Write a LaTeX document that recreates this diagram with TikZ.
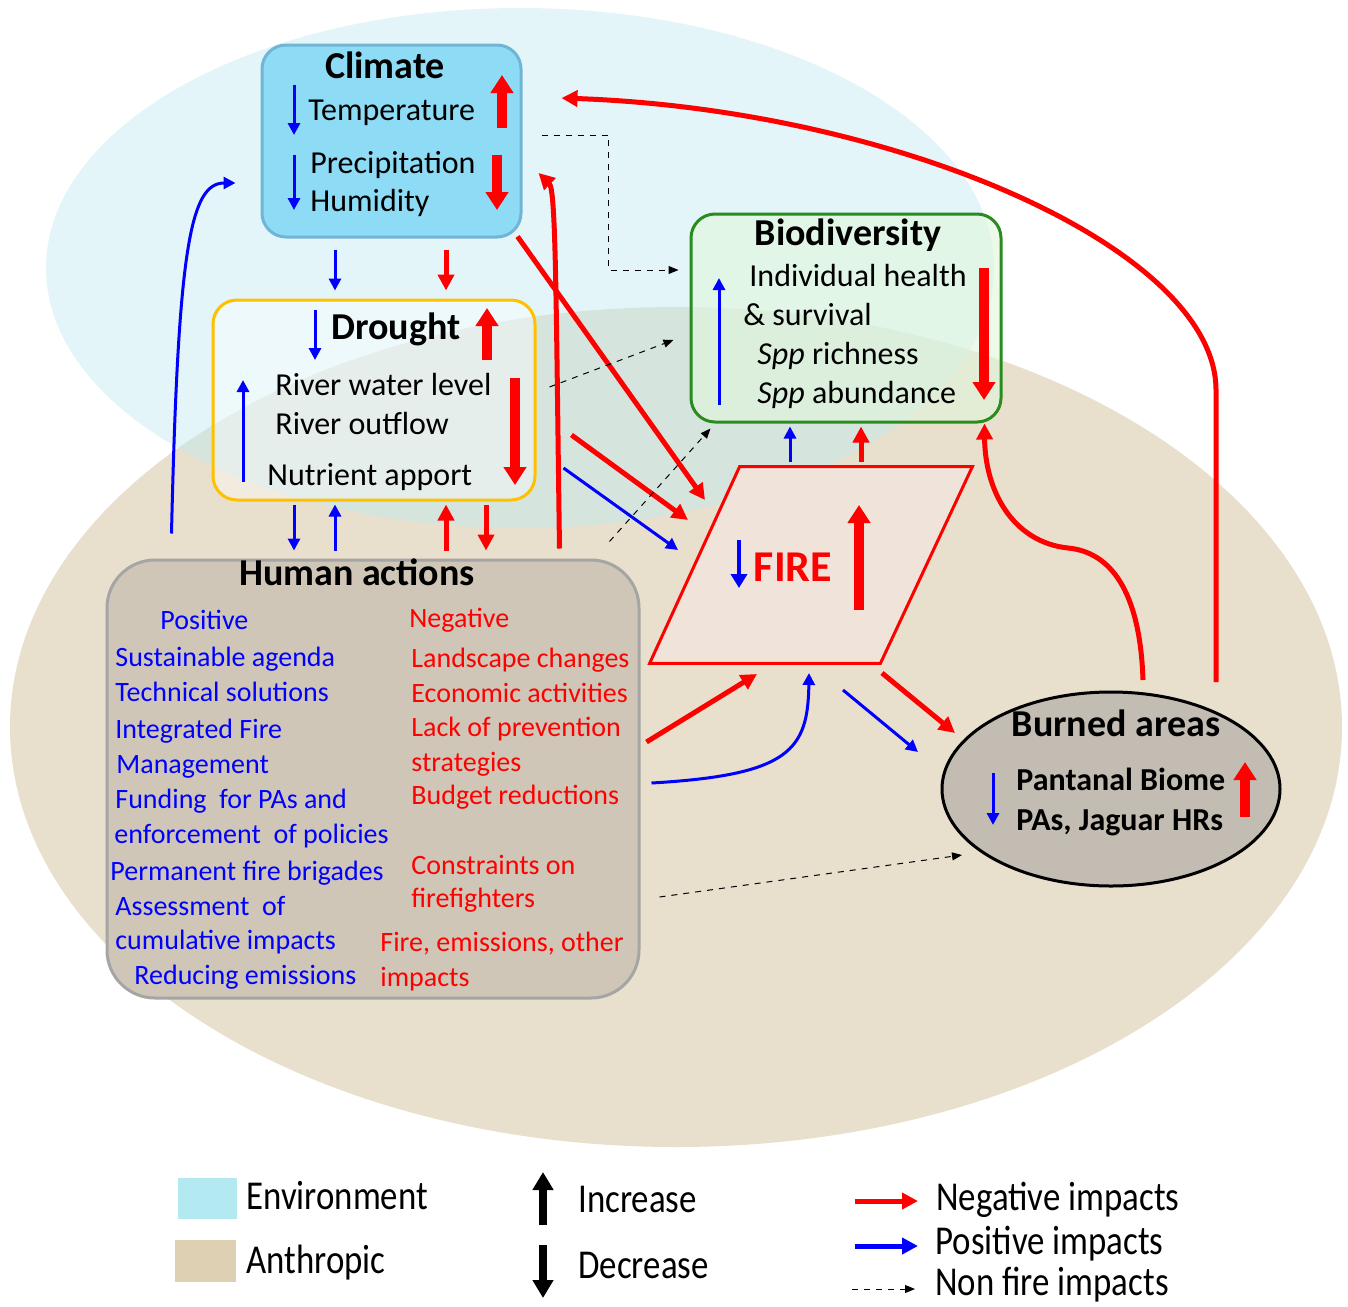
\documentclass[tikz,border=0pt]{standalone}
\usepackage{fontspec}
\setmainfont{Carlito}
\newfontfamily\legfont[FakeStretch=0.85]{Carlito}
\usepackage{tikz}
\usetikzlibrary{arrows.meta,positioning,calc,shapes.geometric}
\usepackage{xcolor}
\definecolor{envbg}{RGB}{196,235,242}
\definecolor{anthbg}{RGB}{232,223,204}
\definecolor{climfill}{RGB}{141,219,244}
\definecolor{climline}{RGB}{112,182,212}
\definecolor{drline}{RGB}{255,192,0}
\definecolor{bioline}{RGB}{40,140,30}
\definecolor{biofill}{RGB}{225,247,220}
\definecolor{humfill}{RGB}{207,198,184}
\definecolor{humline}{RGB}{165,165,165}
\definecolor{burnfill}{RGB}{194,188,178}
\definecolor{firefill}{RGB}{240,228,218}
\definecolor{posblue}{RGB}{0,0,255}
\definecolor{negred}{RGB}{255,0,0}
\definecolor{legenv}{RGB}{179,233,240}
\definecolor{leganth}{RGB}{221,208,179}
\tikzset{
  lbl/.style={font=\fontsize{16}{19}\selectfont, inner sep=0pt, text height=1.05em, text depth=0em, anchor=west},
  ttl/.style={font=\fontsize{19}{22}\selectfont\bfseries, inner sep=0pt},
  hpos/.style={font=\fontsize{14}{17}\selectfont, text=posblue, anchor=west, inner sep=0pt, text height=1.05em, text depth=0em},
  hneg/.style={hpos, text=negred},
  leg/.style={font=\legfont\fontsize{20.5}{24}\selectfont, anchor=west, inner sep=0pt, text height=1.05em, text depth=0em},
  box/.style={draw, rounded corners=12pt, line width=1.5pt, inner sep=0pt},
  climbox/.style={box, fill=climfill, draw=climline, minimum width=129.5pt, minimum height=96pt},
  drbox/.style={box, fill=white, fill opacity=0.4, draw opacity=1, draw=drline, minimum width=161pt, minimum height=100pt},
  biobox/.style={box, fill=biofill, fill opacity=0.6, draw opacity=1, draw=bioline, minimum width=155pt, minimum height=104pt},
  humbox/.style={box, rounded corners=24pt, fill=humfill, draw=humline, minimum width=266pt, minimum height=219pt},
  firearea/.style={inner sep=0pt, minimum width=161pt, minimum height=98pt},
  firebox/.style={draw=negred, line width=1.5pt, fill=firefill, line join=miter},
  burnbox/.style={ellipse, draw, line width=1.5pt, fill=burnfill, inner sep=0pt, minimum width=169pt, minimum height=97pt},
  thin/.style={-{Triangle[width=6pt,length=6pt]}, line width=1.5pt, posblue},
  fat/.style={-{Triangle[width=11pt,length=9pt]}, line width=5pt, negred},
  negarr/.style={-{Triangle[width=8pt,length=8pt]}, line width=2.5pt, negred},
  posarr/.style={-{Triangle[width=6pt,length=6pt]}, line width=1.5pt, posblue},
  nfarr/.style={-{Triangle[width=4pt,length=5pt]}, dashed, line width=0.5pt},
}

\begin{document}
\begin{tikzpicture}[x=0.5pt, y=-0.5pt]
  \useasboundingbox (0,0) rectangle (1348,1306);
  % background areas
  \fill[anthbg] (676,727) ellipse [x radius=666, y radius=420];
  \fill[envbg, fill opacity=0.48] (520,268) ellipse [x radius=474, y radius=260];

  % boxes
  \node[humbox] (hum) at (373,779) {};
  \node[climbox] (clim) at (391.5,141) {};
  \node[drbox] (dr) at (374,400) {};
  \node[biobox] (bio) at (846,318) {};
  \node[firearea] (fire) at (811,565) {};
  \draw[firebox] (fire.south west) -- ($(fire.north west)+(90,0)$) -- (fire.north east)
    -- ($(fire.south east)+(-92,0)$) -- cycle;
  \node[burnbox] (burn) at (1111,789) {};

  % climate
  \node[ttl] (climt) at (385,65) {Climate};
  \node[lbl] (temp) at (308,110) {Temperature};
  \node[lbl] (prec) at (310,163) {Precipitation};
  \node[lbl] (humid) at (310,201) {Humidity};
  \draw[thin] (294,85) -- (294,135);
  \draw[thin] (294,155) -- (294,210);
  \draw[fat] (502,128) -- (502,75);
  \draw[fat] (497,155) -- (497,210);

  % drought
  \node[ttl] (drt) at (396,329) {Drought};
  \node[lbl] (rwl) at (275,385) {River water level};
  \node[lbl] (rof) at (275,424) {River outflow};
  \node[lbl] (nap) at (267,475) {Nutrient apport};
  \draw[thin] (315,310) -- (315,360);
  \draw[thin] (243,482) -- (243,380);
  \draw[fat] (487,360) -- (487,308);
  \draw[fat] (515,378) -- (515,485);

  % biodiversity
  \node[ttl] (biot) at (848,235) {Biodiversity};
  \node[lbl] (ihs) at (749,276) {Individual health};
  \node[lbl] (surv) at (743,315) {\& survival};
  \node[lbl] (rich) at (757,354) {\emph{Spp} richness};
  \node[lbl] (abund) at (757,393) {\emph{Spp} abundance};
  \draw[thin] (719,405) -- (719,278);
  \draw[fat] (984,268) -- (984,400);

  % fire
  \node[font=\fontsize{22}{26}\selectfont\bfseries, text=negred, inner sep=0pt] (firet) at (793,567) {FIRE};
  \draw[thin, line width=2pt, -{Triangle[width=8pt,length=7pt]}] (739,540) -- (739,588);
  \draw[fat] (859,610) -- (859,505);

  % burned areas
  \node[ttl] (burnt) at (1116,723) {Burned areas};
  \node[lbl, font=\fontsize{16}{19}\selectfont\bfseries] (pan) at (1016,780) {Pantanal Biome};
  \node[lbl, font=\fontsize{16}{19}\selectfont\bfseries] (pas) at (1016,820) {PAs, Jaguar HRs};
  \draw[thin] (993,773) -- (993,825);
  \draw[fat] (1245,817) -- (1245,762);

  % human actions
  \node[ttl] (humt) at (357,572) {Human actions};
  \node[hpos] (p0) at (160,619) {Positive};
  \node[hpos] (p1) at (115,656) {Sustainable agenda};
  \node[hpos] (p2) at (115,691) {Technical solutions};
  \node[hpos] (p3) at (115,728) {Integrated Fire};
  \node[hpos] (p4) at (116,763) {Management};
  \node[hpos] (p5) at (115,798) {Funding\ \ for PAs and};
  \node[hpos] (p6) at (114,833) {enforcement\ \ of policies};
  \node[hpos] (p7) at (110,870) {Permanent fire brigades};
  \node[hpos] (p8) at (115,905) {Assessment\ \ of};
  \node[hpos] (p9) at (115,939) {cumulative impacts};
  \node[hpos] (p10) at (134,974) {Reducing emissions};
  \node[hneg] (n0) at (409,617) {Negative};
  \node[hneg] (n1) at (411,657) {Landscape changes};
  \node[hneg] (n2) at (411,692) {Economic activities};
  \node[hneg] (n3) at (411,726) {Lack of prevention};
  \node[hneg] (n4) at (411,761) {strategies};
  \node[hneg] (n5) at (411,794) {Budget reductions};
  \node[hneg] (n6) at (411,864) {Constraints on};
  \node[hneg] (n7) at (411,897) {firefighters};
  \node[hneg] (n8) at (380,941) {Fire, emissions, other};
  \node[hneg] (n9) at (380,976) {impacts};

  % climate <-> drought <-> human actions
  \draw[posarr] ($(clim.south)+(-56.5,11)$) -- ($(dr.north)+(-39,-8)$);
  \draw[negarr] ($(clim.south)+(54.5,11)$) -- ($(dr.north)+(72,-8)$);
  \draw[posarr] ($(dr.south)+(-80,3)$) -- ($(hum.north)+(-79,-8)$);
  \draw[posarr] ($(hum.north)+(-38,-8)$) -- ($(dr.south)+(-39,3)$);
  \draw[negarr] ($(hum.north)+(73,-8)$) -- ($(dr.south)+(72,3)$);
  \draw[negarr] ($(dr.south)+(112,3)$) -- ($(hum.north)+(113,-8)$);
  \draw[posarr] ($(hum.north west)+(66,-25)$) .. controls (178,250) and (190,183) .. ($(clim.west)+(-25,42)$);
  \draw[negarr] ($(hum.north east)+(-81,-10)$) .. controls (556,300) and (556,190) .. ($(clim.east)+(16,32)$);

  % towards fire
  \draw[negarr] ($(clim.south east)+(-5,-2)$) -- ($(fire.center)+(-106,-65)$);
  \draw[negarr] ($(dr.east)+(35,35)$) -- ($(fire.center)+(-123,-45)$);
  \draw[posarr] ($(dr.east)+(27,68)$) -- ($(fire.center)+(-133,-15)$);
  \draw[negarr] ($(hum.east)+(6,-37)$) -- ($(fire.center)+(-54,109)$);
  \draw[posarr] ($(hum.east)+(11,4)$) .. controls (790,775) and (808,750) .. ($(fire.center)+(-2,108)$);

  % non fire impacts
  \draw[nfarr] ($(clim.east)+(19,-6)$) -| ($(bio.west)+(-81,-48)$) -- ($(bio.west)+(-11,-48)$);
  \draw[nfarr] ($(dr.east)+(13,-13)$) -- ($(bio.west)+(-16,22)$);
  \draw[nfarr] ($(hum.north east)+(-31,-17)$) -- ($(bio.south west)+(21,5)$);
  \draw[nfarr] ($(hum.east)+(19,118)$) -- ($(burn.center)+(-149,66)$);

  % fire -> biodiversity, burned areas
  \draw[posarr] ($(fire.center)+(-21,-103)$) -- ($(bio.south)+(-56,3)$);
  \draw[negarr] ($(fire.center)+(50,-103)$) -- ($(bio.south)+(15,3)$);
  \draw[negarr] ($(fire.center)+(71,108)$) -- ($(burn.center)+(-156,-56)$);
  \draw[posarr] ($(fire.center)+(32,125)$) -- ($(burn.center)+(-193,-37)$);

  % burned areas feedback
  \draw[negarr] ($(burn.center)+(32,-109)$) .. controls (1140,590) and (1110,552) .. (1068,548)
    .. controls (1012,542) and (985,490) .. ($(bio.south east)+(-18,0)$);
  \draw[negarr] ($(burn.center)+(105,-107)$) -- (1216,390) .. controls (1216,250) and (900,110) .. ($(clim.east)+(39,-43)$);

  % legend
  \fill[legenv] (178,1178) rectangle (237,1219);
  \fill[leganth] (175,1240) rectangle (236,1282);
  \node[leg] (lenv) at (246,1199) {Environment};
  \node[leg] (lanth) at (246,1263) {Anthropic};
  \draw[fat, black, line width=4pt, -{Triangle[width=10pt,length=9pt]}] (543,1225) -- (543,1172);
  \draw[fat, black, line width=4pt, -{Triangle[width=10pt,length=9pt]}] (543,1245) -- (543,1298);
  \node[leg] (linc) at (578,1202) {Increase};
  \node[leg] (ldec) at (578,1268) {Decrease};
  \draw[negarr] (855,1201) -- (918,1201);
  \draw[posarr, line width=2.5pt, -{Triangle[width=8pt,length=8pt]}] (855,1246) -- (918,1246);
  \draw[nfarr] (852,1289) -- (915,1289);
  \node[leg] (lneg) at (936,1200) {Negative impacts};
  \node[leg] (lpos) at (935,1244) {Positive impacts};
  \node[leg] (lnf) at (935,1285) {Non fire impacts};
\end{tikzpicture}
\end{document}
